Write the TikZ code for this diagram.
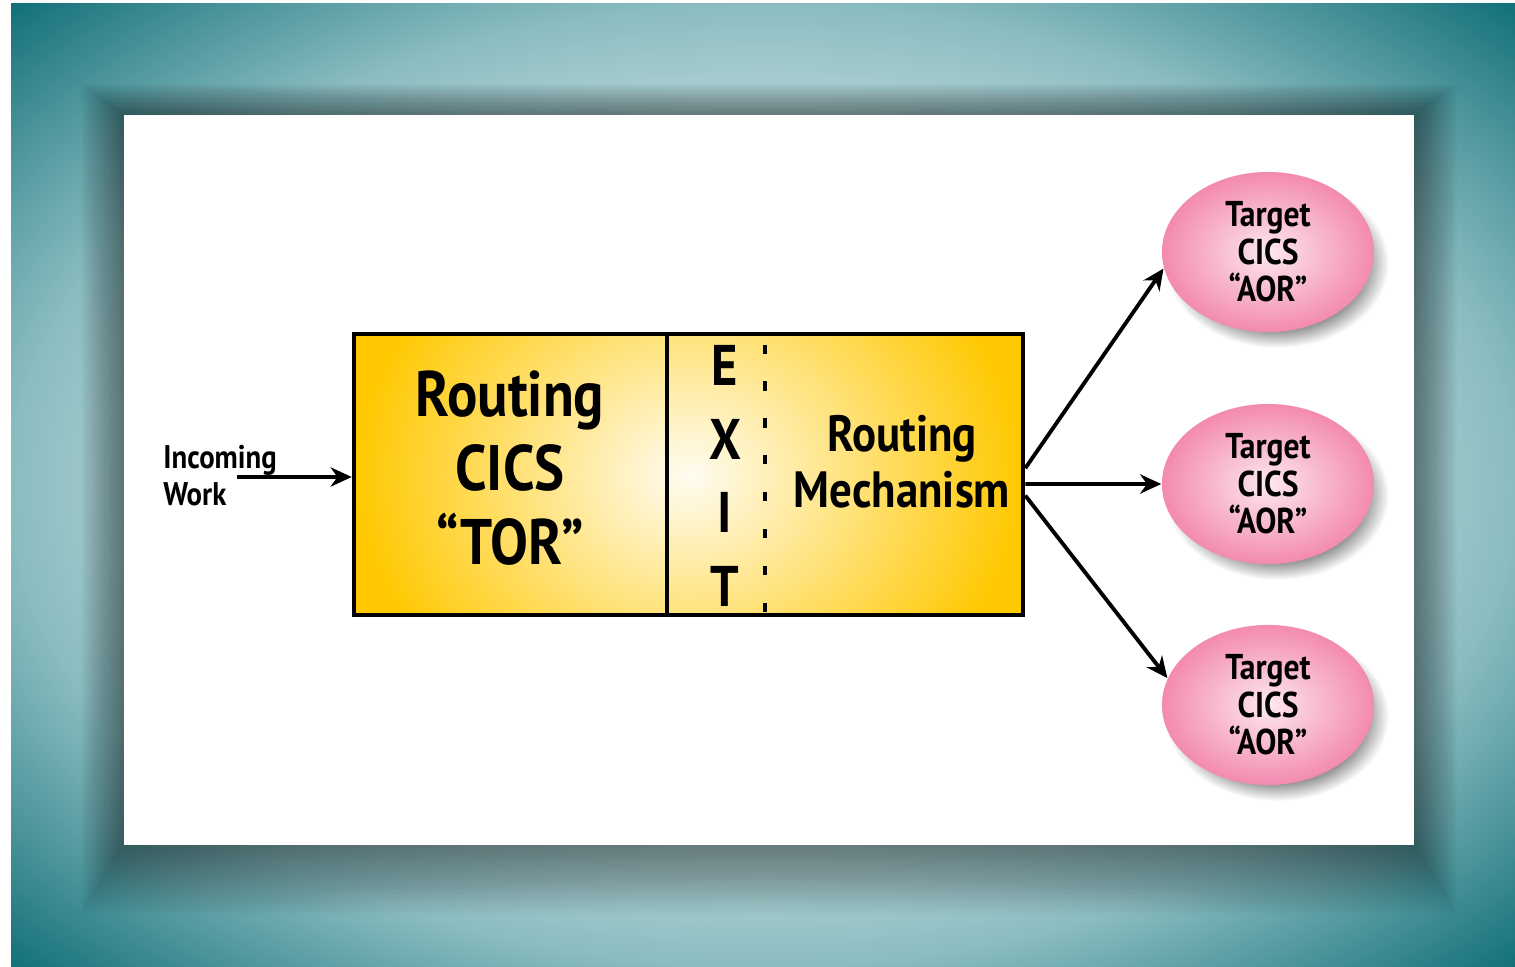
\documentclass[tikz,border=0pt]{standalone}
\usepackage{fontspec}
\usetikzlibrary{shapes.geometric,arrows.meta}

\newfontfamily\cicsfont{PT Sans}[FakeStretch=0.88]

\definecolor{tealD}{HTML}{0B6B74}
\definecolor{tealM}{HTML}{8ABCC0}
\definecolor{tealL}{HTML}{B4D4D7}
\definecolor{goldD}{HTML}{FFC800}
\definecolor{goldL}{HTML}{FFFCF2}
\definecolor{pinkD}{HTML}{F38AB0}
\definecolor{pinkL}{HTML}{FDE8EF}

\pgfdeclareradialshading{tealbg}{\pgfpoint{0bp}{0bp}}{color(0bp)=(tealL); color(19bp)=(tealL); color(25bp)=(tealM); color(36bp)=(tealD); color(50bp)=(tealD)}
\pgfdeclareradialshading{aorshadow}{\pgfpoint{0bp}{0bp}}{color(0bp)=(black!50); color(19bp)=(black!48); color(25bp)=(white); color(50bp)=(white)}

\begin{document}
\begin{tikzpicture}[x=0.01cm,y=-0.01cm,
  cicsbox/.style={draw,line width=1.2pt},
  divider/.style={line width=1.2pt},
  bigtext/.style={align=center,font=\cicsfont\bfseries\fontsize{18.3}{21}\selectfont},
  exittext/.style={align=center,font=\cicsfont\bfseries\fontsize{16.3}{21}\selectfont},
  midtext/.style={align=center,font=\cicsfont\bfseries\fontsize{14.5}{16}\selectfont},
  smalltext/.style={align=left,font=\cicsfont\bfseries\fontsize{9.3}{10.5}\selectfont},
  aor/.style={ellipse,minimum width=2.12cm,minimum height=1.6cm,inner sep=0pt,
    inner color=pinkL,outer color=pinkD,align=center,
    font=\cicsfont\bfseries\fontsize{10.2}{10.7}\selectfont},
  flow/.style={-{Stealth[length=6pt,width=5.5pt]},line width=1.1pt}]

\useasboundingbox (0,0) rectangle (1515,967);

% backdrop and sheet
\shade[shading=tealbg] (11,4) rectangle (1515,967);
\foreach \k in {1,...,24}
  \fill[black,opacity=0.018] (124-1.8*\k,115-1.3*\k) rectangle (1414+1.8*\k,845+2.9*\k);
\fill[white] (124,115) rectangle (1414,845);

% routing region
\begin{scope}
  \clip (354,334) rectangle (1023,615);
  \shade[inner color=goldL,outer color=goldD] (354,190) rectangle (1023,760);
\end{scope}
\node[cicsbox,minimum width=6.69cm,minimum height=2.81cm] (tor) at (688.5,474.5) {};
\draw[divider] (667,334) -- (667,615);
\draw[divider,dash pattern=on 2.6pt off 7.9pt,dash phase=-3pt] (765,334) -- (765,615);

\node[bigtext] (torlabel) at (510,468) {Routing\\CICS\\“TOR”};
\node[exittext] (exit) at (725,476) {E\\X\\I\\T};
\node[midtext] (mech) at (902,462) {Routing\\Mechanism};

\node[smalltext,anchor=west] (incoming) at (151,476) {Incoming\\Work};
\coordinate (workend) at (237,477);

% target regions
\foreach \y in {252,484,705}
  \shade[shading=aorshadow] (1277,\y+11) ellipse [x radius=112,y radius=85];
\node[aor] (aor1) at (1268,252) {Target\\CICS\\“AOR”};
\node[aor] (aor2) at (1268,484) {Target\\CICS\\“AOR”};
\node[aor] (aor3) at (1268,705) {Target\\CICS\\“AOR”};

\draw[flow] (workend) -- (workend -| tor.west);
\draw[flow] ([yshift=1.8pt]tor.east) -- (aor1.189);
\draw[flow] ([yshift=-2.7pt]tor.east) -- (aor2.west);
\draw[flow] ([yshift=-6pt]tor.east) -- (aor3.165);

\end{tikzpicture}
\end{document}
